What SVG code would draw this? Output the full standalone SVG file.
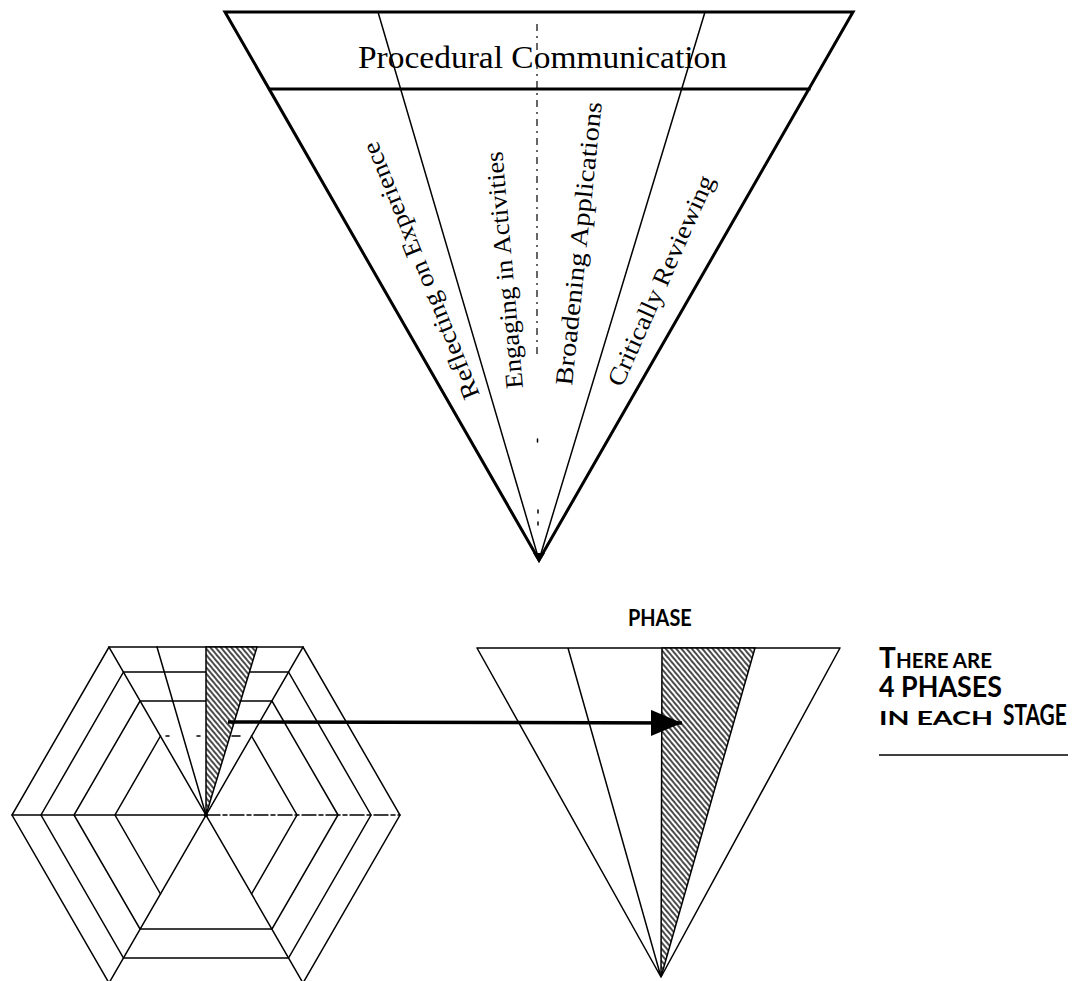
<svg xmlns="http://www.w3.org/2000/svg" width="1074" height="981" viewBox="0 0 1074 981">
  <style>
    .thick { fill: none; stroke: #000; stroke-width: 3; stroke-linejoin: miter; stroke-linecap: square; }
    .thin { fill: none; stroke: #000; stroke-width: 1.5; stroke-linecap: round; }
    .dash { fill: none; stroke: #000; stroke-width: 1.2; stroke-dasharray: 7 5 2 5; }
    .serif { font-family: "Liberation Serif", "DejaVu Serif", serif; fill: #000; }
    .label { font-size: 25px; }
    .sans { font-family: Lato, "DejaVu Sans", sans-serif; font-weight: 700; fill: #000; }
    .shade { fill: url(#hatch); stroke: #000; stroke-width: 1.5; }
  </style>
  <defs>
    <pattern id="hatch" patternUnits="userSpaceOnUse" width="4" height="10" patternTransform="rotate(-40)">
      <rect width="4" height="10" fill="#fff"/>
      <line x1="1" y1="-1" x2="1" y2="11" stroke="#000" stroke-width="1.4"/>
    </pattern>
    <marker id="head" markerUnits="userSpaceOnUse" markerWidth="32" markerHeight="26" refX="31" refY="13" orient="auto">
      <path d="M0,0 L31,13 L0,26 Z" fill="#000"/>
    </marker>
  </defs>

  <rect width="1074" height="981" fill="#fff"/>

  <!-- Stage funnel: header band and four phase sectors -->
  <g id="stage-funnel">
    <path class="thin" d="M378,12 L539,560 M705,12 L539,560"/>
    <path class="dash" d="M537,24 L537,356"/>
    <path class="thin" d="M537.5,439 v3 M538,510 v3 M538,522 v3" stroke-width="1"/>
    <path class="thick" d="M225,12 L853,12 L539,560 Z"/>
    <path class="thick" d="M270,89 L809,89"/>
    <path d="M533,553 L545,553 L539,563 Z" fill="#000"/>
  </g>

  <g id="header-label">
    <text class="serif" x="358" y="68" font-size="31" textLength="369" lengthAdjust="spacingAndGlyphs">Procedural Communication</text>
  </g>

  <g id="phase-reflecting">
    <text class="serif label" transform="translate(480,395) rotate(-112)" textLength="275" lengthAdjust="spacingAndGlyphs">Reflecting on Experience</text>
  </g>
  <g id="phase-engaging">
    <text class="serif label" transform="translate(523,388) rotate(-95)" textLength="238" lengthAdjust="spacingAndGlyphs">Engaging in Activities</text>
  </g>
  <g id="phase-broadening">
    <text class="serif label" transform="translate(572,386) rotate(-84)" textLength="285" lengthAdjust="spacingAndGlyphs">Broadening Applications</text>
  </g>
  <g id="phase-reviewing">
    <text class="serif label" transform="translate(622,388) rotate(-66)" textLength="228" lengthAdjust="spacingAndGlyphs">Critically Reviewing</text>
  </g>

  <!-- Hexagon of six stages with concentric rings; centre (206,815) -->
  <g id="stage-hexagon">
    <!-- outer rings -->
    <path class="thin" d="M400,815 L303,647 L109,647 L12,815 L109,983 L303,983 Z"/>
    <path class="thin" d="M371,815 L288.5,672 L123.5,672 L41,815 L123.5,958 L288.5,958 Z"/>
    <path class="thin" d="M338,815 L272,701 L140,701 L74,815 L140,929 L272,929 Z"/>
    <!-- innermost ring, drawn in part -->
    <path class="thin" d="M160.5,736 L115,815 L160.5,894 M251.5,736 L297,815 L251.5,894"/>
    <path class="thin" d="M166,736 h3 M197,736 h3 M232,736 h8" stroke-width="1.2"/>
    <!-- spokes -->
    <path class="thin" d="M206,815 L303,647 M206,815 L109,647 M206,815 L12,815 M206,815 L109,983 M206,815 L303,983"/>
    <path class="thin" d="M206,815 L400,815" stroke-dasharray="14 3 4 3"/>
    <!-- phase divisions of the top stage -->
    <path class="thin" d="M206,815 L157,647"/>
    <path class="shade" d="M206,647 L257,647 L206,815 Z"/>
    <circle cx="206" cy="815" r="2.2" fill="#000"/>
  </g>

  <!-- Enlarged single stage showing its phases -->
  <g id="phase-triangle">
    <path class="thin" d="M477,648 L840,648 M477,648 L661,977 M568,648 L661,977 M840,648 L661,977"/>
    <path class="shade" d="M662,648 L755,648 L661,977 Z"/>
  </g>

  <g id="phase-title">
    <text class="sans" transform="translate(628,626) scale(0.85,1)" font-size="23" textLength="75" lengthAdjust="spacingAndGlyphs">PHASE</text>
  </g>

  <g id="phase-note">
    <!-- small-caps line: large initial followed by smaller capitals -->
    <text class="sans" x="879" y="668" font-size="28">T</text>
    <text class="sans" x="896" y="668" font-size="20" textLength="96" lengthAdjust="spacingAndGlyphs">HERE ARE</text>
    <text class="sans" x="879" y="697" font-size="28" textLength="123" lengthAdjust="spacingAndGlyphs">4 PHASES</text>
    <text class="sans" x="879" y="725" font-size="19.5" textLength="114" lengthAdjust="spacingAndGlyphs">IN EACH</text>
    <text class="sans" transform="translate(1003,725) scale(0.75,1)" font-size="28" textLength="85" lengthAdjust="spacingAndGlyphs">STAGE</text>
    <line x1="879" y1="755" x2="1068" y2="755" stroke="#000" stroke-width="1.5"/>
  </g>

  <!-- Connector from the hexagon's shaded phase to the enlarged stage -->
  <g id="connectors">
    <line x1="228" y1="722" x2="682" y2="723" stroke="#000" stroke-width="3.5" marker-end="url(#head)"/>
  </g>
</svg>
